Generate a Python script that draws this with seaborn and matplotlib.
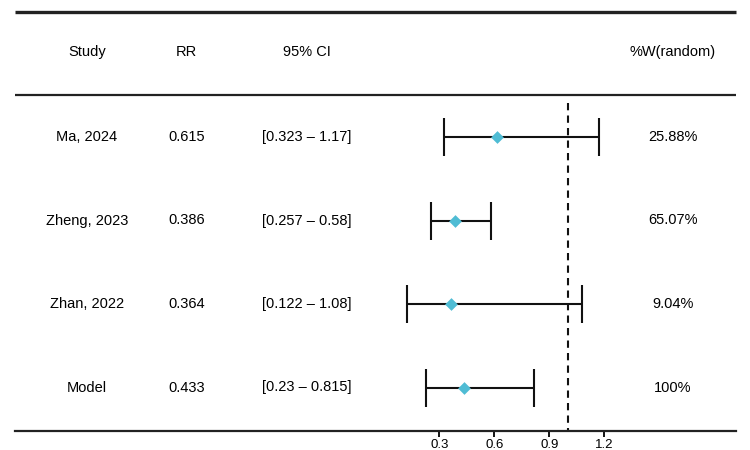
import numpy as np
import pandas as pd
import matplotlib
matplotlib.use("Agg")
import matplotlib.pyplot as plt
import matplotlib.transforms as mtransforms
import seaborn as sns

studies = ["Ma, 2024", "Zheng, 2023", "Zhan, 2022", "Model"]
rr = [0.615, 0.386, 0.364, 0.433]
ci_lo = [0.323, 0.257, 0.122, 0.23]
ci_hi = [1.17, 0.58, 1.08, 0.815]
rr_labels = ["0.615", "0.386", "0.364", "0.433"]
ci_labels = ["[0.323 \u2013 1.17]", "[0.257 \u2013 0.58]", "[0.122 \u2013 1.08]", "[0.23 \u2013 0.815]"]
weights = ["25.88%", "65.07%", "9.04%", "100%"]
headers = ["Study", "RR", "95% CI", "%W(random)"]
xticks = [0.3, 0.6, 0.9, 1.2]

sns.set_style("white")
plt.rcParams["font.family"] = ["Liberation Sans", "DejaVu Sans"]
plt.rcParams["text.color"] = "black"

W, H = 750, 450
fig = plt.figure(figsize=(7.5, 4.5), dpi=100)
ax = fig.add_axes([0, 0, 1, 1])

# pixel layout helpers
x0_px, ux = 384.3, 183.3      # x pixel of value 0, pixels per unit
y0_px, uy = 137.0, 83.5       # y pixel of first row, pixels per row
def xd(px): return (px - x0_px) / ux
def yd(py): return (py - y0_px) / uy

ax.set_xlim(xd(0), xd(W))
ax.set_ylim(yd(H), yd(0))

df = pd.DataFrame({"study": studies, "rr": rr, "lo": ci_lo, "hi": ci_hi,
                   "row": np.arange(len(studies))})

# error bars
ax.errorbar(df["rr"], df["row"],
            xerr=[df["rr"] - df["lo"], df["hi"] - df["rr"]],
            fmt="none", ecolor="#111111", elinewidth=1.5, capsize=14, capthick=1.5,
            zorder=2)
sns.scatterplot(data=df, x="rr", y="row", marker="D", s=42, color="#4fbcd4",
                linewidth=0, ax=ax, zorder=3, legend=False)

# reference dashed line at 1
ln = ax.vlines(1.0, yd(103), yd(430.5), colors="#111111", linewidth=1.5, zorder=1)
ln.set_linestyle((0, (3.5, 2.5)))

# horizontal rules
ax.plot([xd(15), xd(736)], [yd(12), yd(12)], color="#222222", lw=2.4, solid_capstyle="butt")
ax.plot([xd(15), xd(736)], [yd(95), yd(95)], color="#222222", lw=1.6, solid_capstyle="butt")

# axis
for s in ["top", "right", "left"]:
    ax.spines[s].set_visible(False)
ax.spines["bottom"].set_position(("data", yd(430.5)))
ax.spines["bottom"].set_bounds(xd(15), xd(736))
ax.spines["bottom"].set_linewidth(1.6)
ax.spines["bottom"].set_color("#222222")
ax.set_xticks(xticks)
ax.set_xticklabels([f"{t:.1f}" for t in xticks])
ax.tick_params(axis="x", direction="out", length=4, width=1.3, labelsize=9.5, pad=2,
               bottom=True, colors="black")
ax.set_yticks([])
ax.set_xlabel("")
ax.set_ylabel("")

# table text
tr = mtransforms.blended_transform_factory(fig.transFigure, ax.transData)
col_x = [87, 186.5, 307, 673]
hdr_y = yd(52)
for cx, h in zip(col_x, headers):
    ax.text(cx / W, hdr_y, h, transform=tr, ha="center", va="center", fontsize=10.5,
            color="black")
for i in range(len(studies)):
    vals = [studies[i], rr_labels[i], ci_labels[i], weights[i]]
    for cx, v in zip(col_x, vals):
        ax.text(cx / W, i, v, transform=tr, ha="center", va="center", fontsize=10.5,
                color="black")

fig.savefig("out.png", dpi=100)
